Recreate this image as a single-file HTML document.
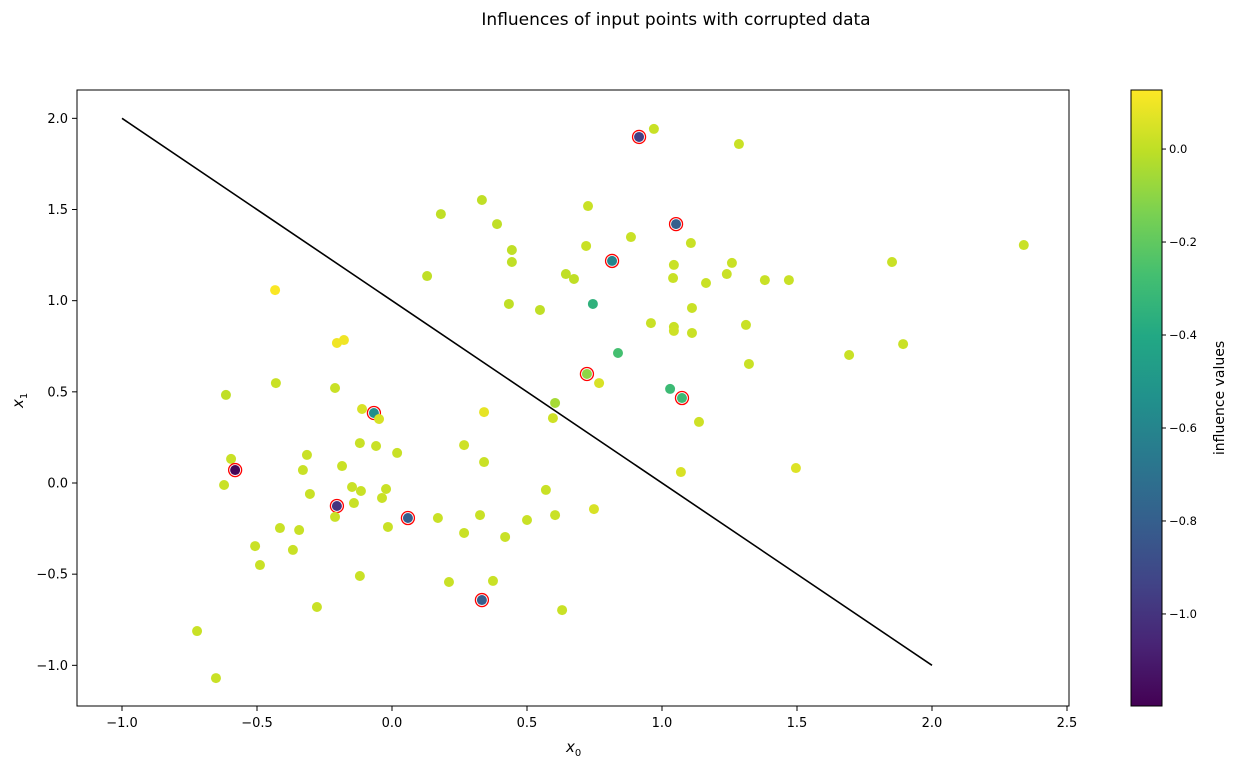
<!DOCTYPE html>
<html><head><meta charset="utf-8"><style>
body{margin:0;background:#fff;font-family:"Liberation Sans","DejaVu Sans",sans-serif;}
</style></head><body>
<svg id="chart" width="1238" height="767" xmlns="http://www.w3.org/2000/svg" style="font-family:'DejaVu Sans','Liberation Sans',sans-serif">
<defs><linearGradient id="vir" x1="0" y1="1" x2="0" y2="0">
<stop offset="0" stop-color="#440154"/><stop offset="0.1" stop-color="#482475"/><stop offset="0.2" stop-color="#414487"/><stop offset="0.3" stop-color="#355f8d"/><stop offset="0.4" stop-color="#2a788e"/><stop offset="0.5" stop-color="#21918c"/><stop offset="0.6" stop-color="#22a884"/><stop offset="0.7" stop-color="#44bf70"/><stop offset="0.8" stop-color="#7ad151"/><stop offset="0.9" stop-color="#bddf26"/><stop offset="1" stop-color="#fde725"/></linearGradient></defs>
<g id="plot"></g>
</svg>
<script>
const xs=[-0.433,0.181,0.333,0.389,0.444,0.444,0.13,0.644,0.674,0.433,0.548,-0.204,-0.178,-0.43,-0.615,-0.211,-0.111,-0.067,0.341,0.604,0.596,
0.915,0.970,1.285,0.726,1.052,0.885,0.719,1.107,0.815,1.044,1.259,1.041,1.163,1.24,1.381,1.47,1.852,2.34,0.744,1.111,0.959,1.044,1.044,1.111,1.311,0.837,1.322,1.693,1.893,0.722,0.767,1.03,1.074,1.137,
-0.048,0.267,0.341,-0.119,-0.059,0.019,-0.315,-0.185,-0.596,-0.581,-0.33,-0.622,-0.148,-0.115,-0.022,-0.037,-0.304,-0.141,-0.204,-0.211,0.059,0.17,0.326,0.57,0.604,0.5,0.267,0.419,-0.015,-0.415,-0.344,-0.507,-0.367,-0.489,-0.119,0.211,0.374,0.333,0.63,-0.278,-0.722,-0.652,1.07,1.496,0.748];
const ys=[1.058,1.475,1.552,1.42,1.278,1.212,1.135,1.146,1.119,0.982,0.949,0.768,0.784,0.548,0.483,0.521,0.406,0.384,0.389,0.439,0.356,
1.898,1.942,1.859,1.519,1.42,1.349,1.30,1.316,1.218,1.196,1.207,1.124,1.097,1.146,1.113,1.113,1.212,1.305,0.982,0.96,0.877,0.856,0.834,0.823,0.867,0.713,0.653,0.702,0.762,0.598,0.548,0.516,0.466,0.335,
0.351,0.208,0.115,0.219,0.203,0.165,0.154,0.093,0.132,0.071,0.071,-0.011,-0.022,-0.044,-0.033,-0.082,-0.06,-0.11,-0.126,-0.186,-0.192,-0.192,-0.176,-0.038,-0.176,-0.203,-0.274,-0.296,-0.241,-0.247,-0.258,-0.346,-0.367,-0.45,-0.51,-0.543,-0.537,-0.642,-0.697,-0.68,-0.812,-1.07,0.06,0.082,-0.143];
const vals=[0.12,0,0,0,0,0,0,0,0,0,0,0.1,0.1,0.02,0,0.02,0.05,-0.55,0.08,-0.05,0.03,
-0.95,0.02,0.02,0.02,-0.8,0.02,0.02,0.02,-0.6,0.02,0.02,0.02,0.02,0.02,0.02,0.02,0.02,0.02,-0.35,0.02,0.02,0.02,0.03,0.02,0.02,-0.27,0.02,0.02,0.02,-0.1,0.05,-0.3,-0.3,0.03,
0.05,0.03,0.02,0.02,0.02,0.02,0.02,0.02,0.02,-1.18,0.02,0.02,0.02,0.02,0.02,0.02,0.02,0.02,-1.0,0.02,-0.8,0.02,0.02,0.02,0.02,0.02,0.02,0.02,0.02,0.02,0.02,0.02,0.02,0.02,0.02,0.02,0.02,-0.8,0.02,0.02,0.02,0.02,0.05,0.06,0.05];
const circled=[17,21,25,29,50,53,64,73,75,92];
const xTicks=[-1.0,-0.5,0.0,0.5,1.0,1.5,2.0,2.5];
const yTicks=[-1.0,-0.5,0.0,0.5,1.0,1.5,2.0];
const cTicks=[0.0,-0.2,-0.4,-0.6,-0.8,-1.0];
const lineX=[-1,2], lineY=[2,-1];
const vmin=-1.198, vmax=0.127;
const NS='http://www.w3.org/2000/svg';
const X=v=>392+v*270, Y=v=>483-v*182.33;
const CB={x:1131,w:31,top:90,bot:706};
const C=v=>CB.bot-(v-vmin)/(vmax-vmin)*(CB.bot-CB.top);
const vir=['#440154','#482475','#414487','#355f8d','#2a788e','#21918c','#22a884','#44bf70','#7ad151','#bddf26','#fde725'];
function hex(h){return [1,3,5].map(i=>parseInt(h.substr(i,2),16));}
function color(v){let t=Math.max(0,Math.min(1,(v-vmin)/(vmax-vmin)))*10;let i=Math.min(9,Math.floor(t)),f=t-i;const a=hex(vir[i]),b=hex(vir[i+1]);return 'rgb('+a.map((c,k)=>Math.round(c+(b[k]-c)*f)).join(',')+')';}
const g=document.getElementById('plot');
function el(t,a,txt){const e=document.createElementNS(NS,t);for(const k in a)e.setAttribute(k,a[k]);if(txt!==undefined)e.textContent=txt;g.appendChild(e);return e;}
let e;
e=el('text',{x:676,y:25,'text-anchor':'middle','font-size':17},'Influences of input points with corrupted data');


e=el('rect',{x:77,y:90,width:992,height:616,fill:'none',stroke:'#000','stroke-width':1});


xTicks.forEach(t=>{
 e=el('line',{x1:X(t),x2:X(t),y1:706,y2:711,stroke:'#000'});
 
 
 e=el('text',{x:X(t),y:727,'text-anchor':'middle','font-size':13},t.toFixed(1).replace('-','\u2212'));
 
 
});
yTicks.forEach(t=>{
 e=el('line',{x1:72,x2:77,y1:Y(t),y2:Y(t),stroke:'#000'});
 
 
 e=el('text',{x:68,y:Y(t)+4.5,'text-anchor':'end','font-size':13},t.toFixed(1).replace('-','\u2212'));
 
 
});
e=el('text',{x:566,y:752,'font-size':15,'font-style':'italic'},'x');


el('tspan',{'font-size':10,'font-style':'normal',dy:4},'0');
e.lastChild||0;
g.lastChild.remove();
e.appendChild(Object.assign(document.createElementNS(NS,'tspan'),{}));
e.lastChild.setAttribute('font-size','10');e.lastChild.setAttribute('dy','4');e.lastChild.setAttribute('font-style','normal');e.lastChild.textContent='0';
e=el('text',{x:0,y:0,'font-size':15,'font-style':'italic',transform:'translate(23,408) rotate(-90)'},'x');


const ts=document.createElementNS(NS,'tspan');ts.setAttribute('font-size','10');ts.setAttribute('dy','4');ts.setAttribute('font-style','normal');ts.textContent='1';e.appendChild(ts);
e=el('polyline',{points:lineX.map((v,i)=>X(v)+','+Y(lineY[i])).join(' '),fill:'none',stroke:'#000','stroke-width':1.6});


xs.forEach((v,i)=>{
 if(circled.includes(i)){
  e=el('circle',{cx:X(v),cy:Y(ys[i]),r:6.5,fill:'#fff',stroke:'red','stroke-width':1.3});
  
  
 }
 e=el('circle',{cx:X(v),cy:Y(ys[i]),r:5,fill:color(vals[i])});
 
 
});
e=el('rect',{x:CB.x,y:CB.top,width:CB.w,height:CB.bot-CB.top,fill:'url(#vir)',stroke:'#000','stroke-width':1});


cTicks.forEach(t=>{
 e=el('line',{x1:CB.x+CB.w,x2:CB.x+CB.w+4,y1:C(t),y2:C(t),stroke:'#000'});
 
 
 e=el('text',{x:CB.x+CB.w+7,y:C(t)+4,'font-size':11.5},t.toFixed(1).replace('-','\u2212'));
 
 
});
e=el('text',{x:0,y:0,'font-size':14,'text-anchor':'middle',transform:'translate(1224,398) rotate(-90)'},'influence values');


</script>
</body></html>
